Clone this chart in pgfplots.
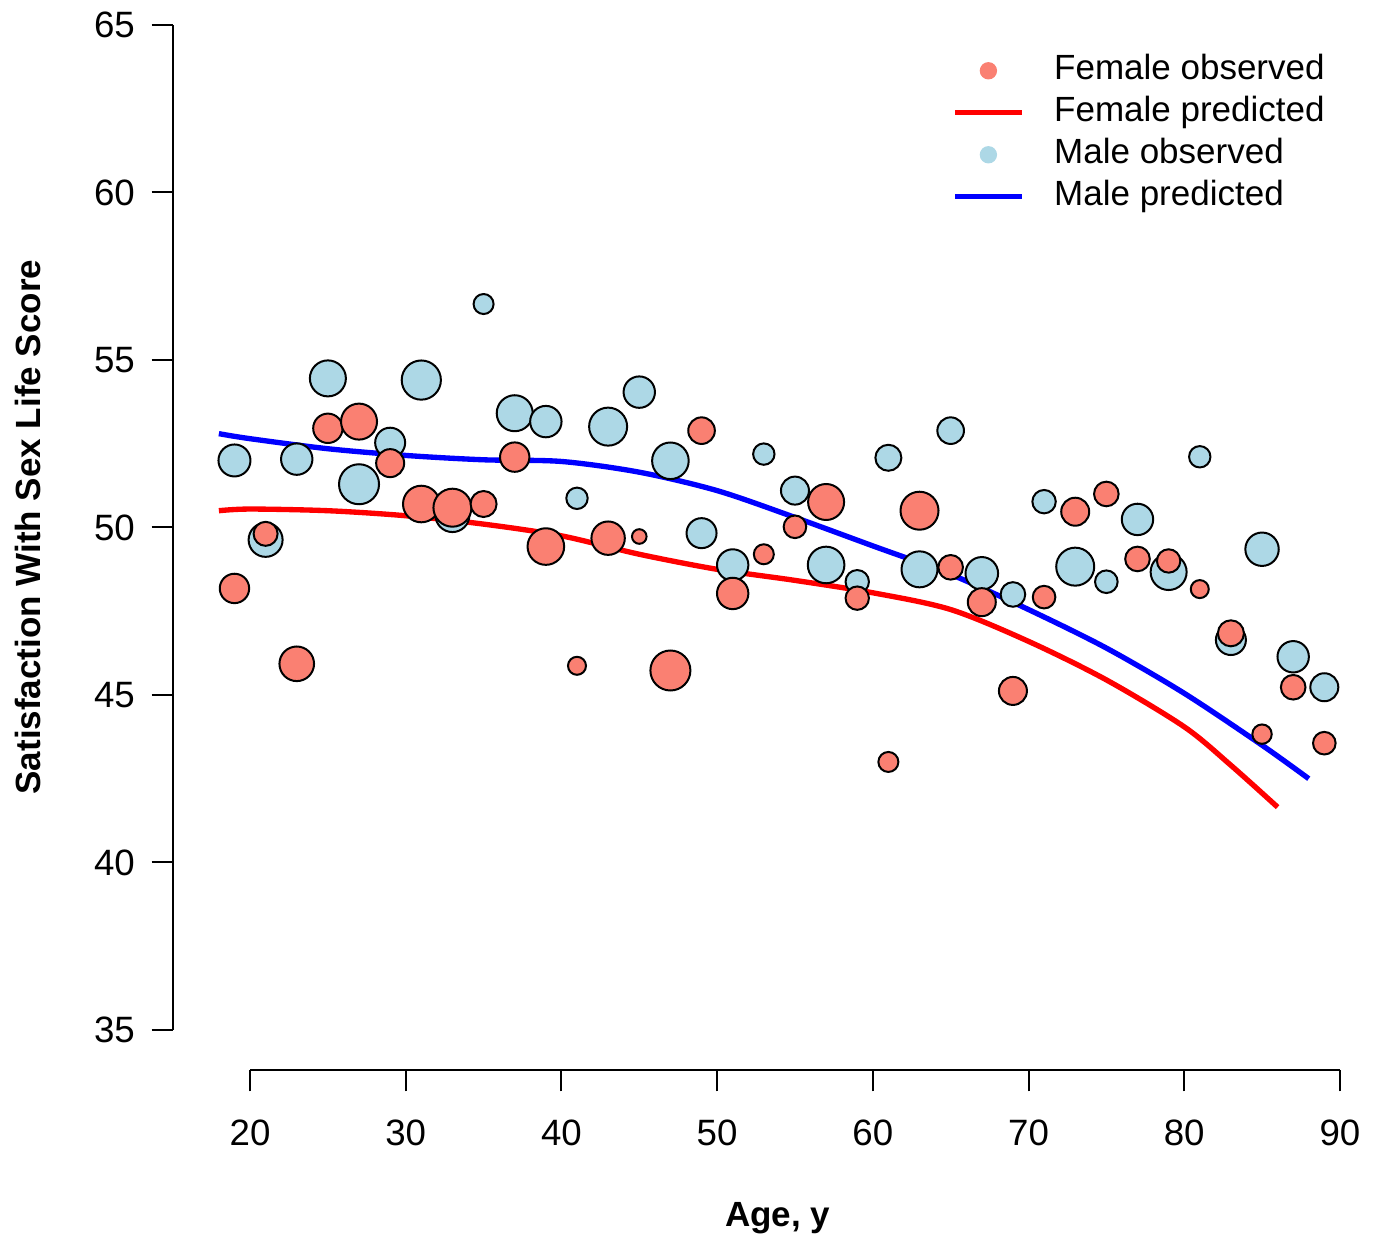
\documentclass[border=0pt]{standalone}
\usepackage{fontspec}
\setmainfont{Liberation Sans}
\usepackage{pgfplots}
\pgfplotsset{compat=1.18}
\usepackage{pgfplotstable}

\definecolor{salmon}{RGB}{250,128,114}
\definecolor{lblue}{RGB}{173,216,230}

% age, score, bubble radius (px of the reference)
\pgfplotstableread{
a s r
19 52.00 17
21 49.63 18
23 52.04 16.7
25 54.45 19
27 51.29 21
29 52.53 16
31 54.40 20.6
33 50.37 18
35 56.67 11
37 53.41 19
39 53.16 16.7
41 50.87 11.7
43 53.01 20
45 54.04 16.7
47 51.99 19.3
49 49.83 16
51 48.88 16.7
53 52.19 11.7
55 51.10 15
57 48.88 19.3
59 48.38 12.7
61 52.08 14
63 48.75 19
65 52.89 14.3
67 48.63 17.3
69 48.00 13.3
71 50.77 12.7
73 48.83 20
75 48.38 12.3
77 50.24 16.7
79 48.67 19
81 52.11 11.7
83 46.64 16
85 49.35 17.7
87 46.14 16.7
89 45.23 15
}\male

\pgfplotstableread{
a s r
19 48.18 15.7
21 49.81 13
23 45.93 18.3
25 52.96 15.7
27 53.16 19
29 51.92 15
31 50.70 19.3
33 50.59 20
35 50.70 14
37 52.10 15.7
39 49.43 19.3
41 45.87 10
43 49.68 17.7
45 49.73 8.3
47 45.73 21
49 52.89 14.3
51 48.03 16.7
53 49.20 11
55 50.02 12.3
57 50.76 19
59 47.89 12.7
61 43.00 11
63 50.50 20
65 48.81 13.3
67 47.77 15
69 45.12 15
71 47.92 12.3
73 50.47 15
75 51.00 13.3
77 49.06 13.3
79 49.00 12.7
81 48.16 10
83 46.84 14
85 43.83 10.7
87 45.23 13.3
89 43.56 12.3
}\female

\begin{document}
\begin{tikzpicture}
\begin{axis}[
  x=4.671pt, y=10.05pt,
  xmin=15.05, xmax=91.5, ymin=33.8, ymax=65.3,
  axis x line*=bottom, axis y line*=left,
  axis line style={draw=none},
  xtick={20,30,...,90}, ytick={35,40,...,65},
  tick align=outside, major tick length=6.4pt,
  tick style={black, line width=0.6pt},
  /pgf/number format/assume math mode=true,
  tick label style={font=\fontsize{11}{12}\selectfont},
  xticklabel style={yshift=-4.9pt},
  yticklabel style={xshift=-1.5pt},
  xlabel={\bfseries Age, y},
  ylabel={\bfseries Satisfaction With Sex Life Score},
  label style={font=\fontsize{10.5}{12}\selectfont},
  xlabel style={at={(axis description cs:0.508,-0.1405)}, anchor=center},
  ylabel style={at={(axis description cs:-0.1218,0.5146)}, anchor=center, rotate=0},
  legend style={draw=none, fill=none, at={(axis cs:65.08,64.28)}, anchor=north west,
    inner sep=0pt, font=\fontsize{10.5}{12}\selectfont,
    nodes={inner sep=0pt, text height=9pt, text depth=3.6pt},
    /tikz/every odd column/.append style={column sep=9pt}},
  legend cell align=left,
  clip=false,
]
  % legend order as in the reference
  \addlegendimage{legend image code/.code={\fill[salmon] (10pt,0pt) circle (2.4pt);}}
  \addlegendentry{Female observed}
  \addlegendimage{legend image code/.code={\draw[red, line width=1.5pt] (0pt,0pt) -- (20pt,0pt);}}
  \addlegendentry{Female predicted}
  \addlegendimage{legend image code/.code={\fill[lblue] (10pt,0pt) circle (2.4pt);}}
  \addlegendentry{Male observed}
  \addlegendimage{legend image code/.code={\draw[blue, line width=1.5pt] (0pt,0pt) -- (20pt,0pt);}}
  \addlegendentry{Male predicted}

  % R-style detached axis lines
  \draw[black, line width=0.6pt] (axis cs:20,33.8) -- (axis cs:90,33.8);
  \draw[black, line width=0.6pt] (axis cs:15.05,35) -- (axis cs:15.05,65);
  % page frame
  \path (axis cs:3.94,28.79) rectangle (axis cs:92.32,65.746);

  % predicted curves
  \addplot[red, line width=1.6pt, smooth, forget plot] coordinates {
    (18,50.50) (20,50.55) (25,50.50) (30,50.35) (35,50.10) (40,49.75)
    (45,49.20) (50,48.75) (55,48.42) (60,48.05) (65,47.55) (70,46.60)
    (75,45.45) (80,44.05) (83,42.90) (86,41.65)};
  \addplot[blue, line width=1.6pt, smooth, forget plot] coordinates {
    (18,52.80) (20,52.65) (25,52.35) (30,52.15) (35,52.02) (40,51.97)
    (45,51.65) (50,51.10) (55,50.30) (60,49.45) (65,48.60) (70,47.55)
    (75,46.40) (80,45.05) (85,43.50) (88,42.50)};

  % observed bubbles
  \addplot[scatter, only marks, mark=*, forget plot,
    scatter/use mapped color={draw=black, fill=lblue},
    mark options={line width=0.6pt},
    visualization depends on={0.3*\thisrow{r}-0.3 \as \rr},
    scatter/@pre marker code/.append style={/tikz/mark size=\rr}]
    table[x=a, y=s] {\male};
  \addplot[scatter, only marks, mark=*, forget plot,
    scatter/use mapped color={draw=black, fill=salmon},
    mark options={line width=0.6pt},
    visualization depends on={0.3*\thisrow{r}-0.3 \as \rr},
    scatter/@pre marker code/.append style={/tikz/mark size=\rr}]
    table[x=a, y=s] {\female};
\end{axis}
\end{tikzpicture}
\end{document}
